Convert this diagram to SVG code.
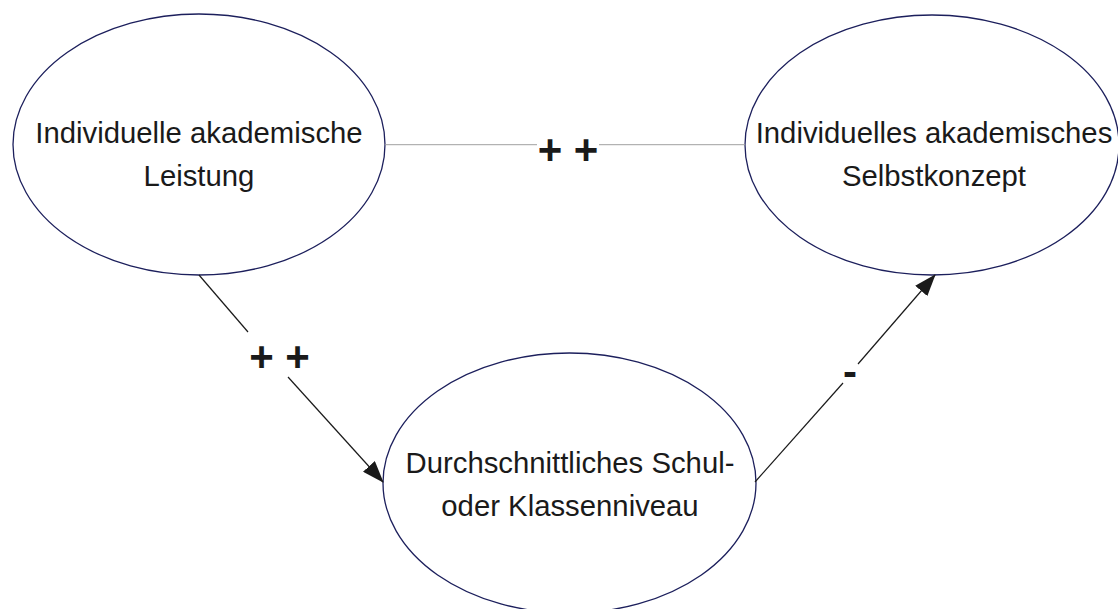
<svg xmlns="http://www.w3.org/2000/svg" width="1118" height="609" viewBox="0 0 1118 609">
<style>
.node ellipse{fill:#fff;stroke:#1c1f5c;stroke-width:1.3}
.node text{font-family:"Liberation Sans",Arial,sans-serif;font-size:29.3px;fill:#1a1a1a;text-anchor:middle}
.lbl{font-family:"Liberation Sans",Arial,sans-serif;font-weight:bold;font-size:42px;fill:#1a1a1a;text-anchor:middle}
.conn line{stroke:#1a1a1a;stroke-width:1.2}
.conn line.gray{stroke:#a0a0a0;stroke-width:1}
</style>
<defs>
<marker id="arrb" markerWidth="22" markerHeight="16" refX="21" refY="8" orient="auto" markerUnits="userSpaceOnUse" viewBox="0 0 22 16">
<path d="M0,0 L22,8 L0,16 Z" fill="#1a1a1a"/>
</marker>
</defs>
<rect width="1118" height="609" fill="#fff"/>
<g id="n1" class="node">
<ellipse cx="199" cy="144.5" rx="186" ry="130.5"/>
<text x="199" y="143">Individuelle akademische</text>
<text x="199" y="186">Leistung</text>
</g>
<g id="n2" class="node">
<ellipse cx="932" cy="145" rx="187" ry="130"/>
<text x="934" y="143">Individuelles akademisches</text>
<text x="934" y="186">Selbstkonzept</text>
</g>
<g id="n3" class="node">
<ellipse cx="569.5" cy="483" rx="186.5" ry="130"/>
<text x="570" y="473">Durchschnittliches Schul-</text>
<text x="570" y="516">oder Klassenniveau</text>
</g>
<g id="connectors" class="conn">
<line class="gray" x1="385" y1="144.7" x2="537" y2="144.7"/>
<line class="gray" x1="599" y1="144.7" x2="745" y2="144.7"/>
<line x1="199" y1="275" x2="248" y2="332"/>
<line x1="288" y1="377" x2="383" y2="482" marker-end="url(#arrb)"/>
<line x1="755" y1="482" x2="843" y2="383"/>
<line x1="858" y1="364" x2="935" y2="275" marker-end="url(#arrb)"/>
<text class="lbl" x="568" y="164">+ +</text>
<text class="lbl" x="279.5" y="371">+ +</text>
<text class="lbl" x="850" y="386">-</text>
</g>
</svg>
